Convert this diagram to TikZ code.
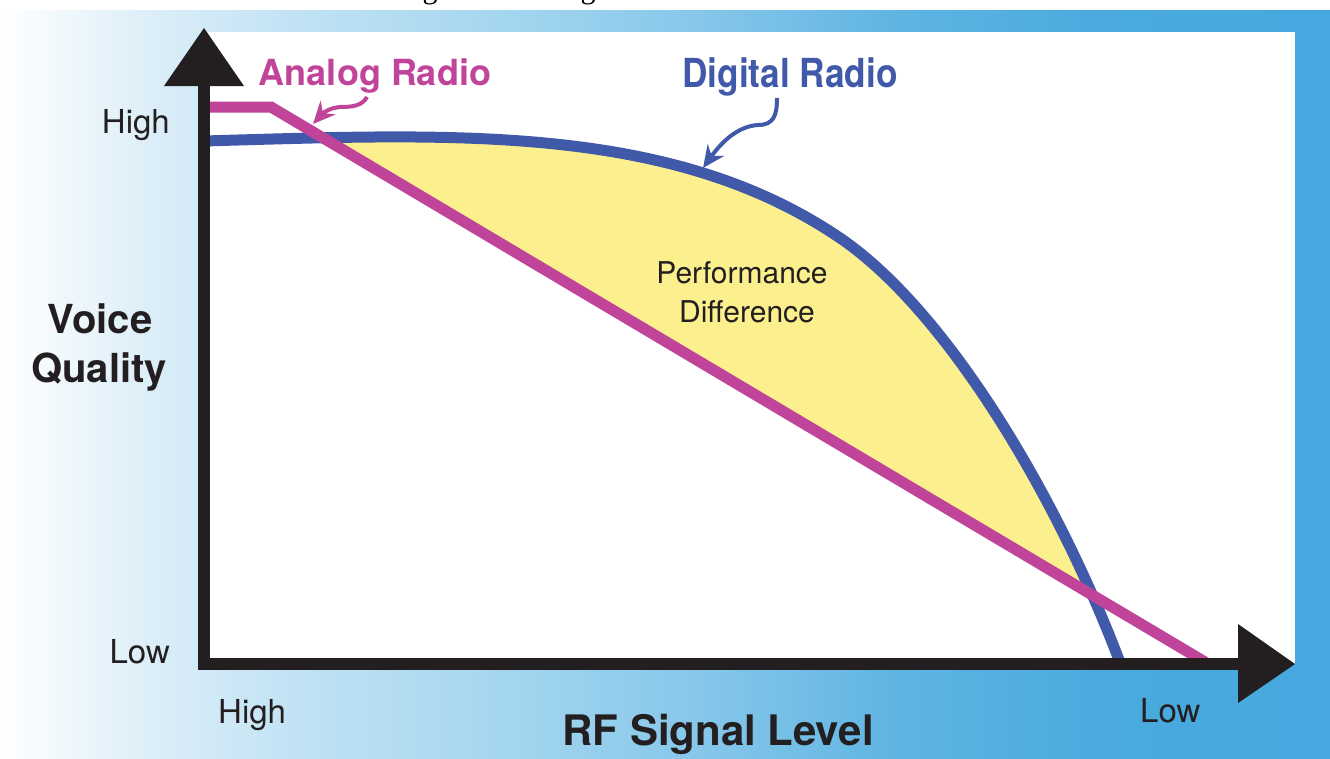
\documentclass[tikz,border=0pt]{standalone}
\usepackage{fontspec}
\setmainfont{TeX Gyre Heros}
\newfontfamily\captionserif{Liberation Serif}
\usepackage{graphicx}
\usetikzlibrary{arrows.meta}

% palette
\definecolor{analog}{HTML}{C0449A}
\definecolor{digital}{HTML}{4059A9}
\definecolor{gapfill}{HTML}{FBF08D}
\definecolor{axisink}{HTML}{231F20}
\definecolor{bgA}{HTML}{DCEEF8}
\definecolor{bgB}{HTML}{C0E2F4}
\definecolor{bgC}{HTML}{A5D6EF}
\definecolor{bgD}{HTML}{86C7EA}
\definecolor{bgE}{HTML}{5FB4E3}
\definecolor{bgF}{HTML}{4AAADE}
\definecolor{bgG}{HTML}{45A8DE}

% white-to-blue backdrop running left to right
\pgfdeclarehorizontalshading{backdrop}{100bp}{%
  color(0bp)=(white); color(25bp)=(white); color(30.6bp)=(bgA);
  color(36.3bp)=(bgB); color(43.8bp)=(bgC); color(51.3bp)=(bgD);
  color(58.8bp)=(bgE); color(66.4bp)=(bgF); color(75bp)=(bgG);
  color(100bp)=(bgG)}

\tikzset{
  txt/.style={inner sep=0pt, text=axisink},
  tick/.style={txt, font=\fontsize{33}{40}\selectfont},
  axtitle/.style={txt, font=\bfseries\fontsize{40}{48}\selectfont},
  xtitlefont/.style={txt, font=\bfseries\fontsize{42}{50}\selectfont},
  note/.style={txt, font=\fontsize{30}{36}\selectfont},
  analoglabel/.style={inner sep=0pt, text=analog, font=\bfseries\fontsize{36}{43}\selectfont},
  digitallabel/.style={inner sep=0pt, text=digital, font=\bfseries\fontsize{40}{48}\selectfont},
  curve/.style={line width=11pt, line cap=butt},
  pointer/.style={line width=4pt, -{Stealth[length=22pt,width=20pt]}},
}

\begin{document}
\begin{tikzpicture}[x=1pt, y=-1pt]
\useasboundingbox (0,0) rectangle (1330,758);

% descenders of the caption line above the figure
\node[inner sep=0pt, anchor=base, font=\captionserif\fontsize{30}{36}\selectfont] (capg1) at (430,-2) {g};
\node[inner sep=0pt, anchor=base, font=\captionserif\fontsize{30}{36}\selectfont] (capg2) at (588,-2) {g};

% backdrop and plot panel
\shade[shading=backdrop] (0,10) rectangle (1330,758);
\fill[white] (204,32) rectangle (1295,664);

% key points of the digital curve
\coordinate (dstart) at (204,141);
\coordinate (dknee) at (840,238);
\coordinate (dend) at (1122,668);

% region between the two curves
\begin{scope}
  \clip (204,0) -- (204,107) -- (271,107) -- (1205,662) -- (1320,662) -- (1320,0) -- cycle;
  \fill[gapfill] (dstart) .. controls (450,134) and (670,122.4) .. (dknee)
    .. controls (950,312.8) and (1062,506) .. (dend)
    -- (1122,700) -- (204,700) -- cycle;
\end{scope}

% digital radio curve
\draw[digital, curve] (dstart) .. controls (450,134) and (670,122.4) .. (dknee)
    .. controls (950,312.8) and (1062,506) .. (dend);

% analog radio line
\draw[analog, curve, line join=miter] (204,107) -- (271,107) -- (1205,662);

% axes
\draw[axisink, line width=12pt, line join=miter] (204,80) |- (1242,664);
\fill[axisink] (164,86) -- (204,28) -- (244,86) -- cycle;
\fill[axisink] (1238,624) -- (1295,664) -- (1238,703) -- cycle;

% axis labels
\node[tick, anchor=base east] (yhigh) at (170,133) {High};
\node[tick, anchor=base east] (ylow) at (170,663) {Low};
\node[tick, anchor=base west] (xhigh) at (218,723) {High};
\node[tick, anchor=base west] (xlow) at (1140,722) {Low};
\node[xtitlefont, anchor=base] (xtitle) at (718,745) {RF Signal Level};
\node[axtitle, anchor=base] (ytitleA) at (100,333) {Voice};
\node[axtitle, anchor=base] (ytitleB) at (99,382) {Quality};

% gap annotation
\node[note, anchor=base] (perfA) at (742,283) {Performance};
\node[note, anchor=base] (perfB) at (747,322) {Difference};

% curve labels with pointers
\node[analoglabel, anchor=base] (analoglbl) at (375,85) {Analog Radio};
\node[digitallabel, anchor=base] (digitallbl) at (790,87) {\scalebox{0.88}[1]{Digital Radio}};
\coordinate (analogtip) at (313,124);
\coordinate (digitaltip) at (703,168);
\draw[analog, pointer] ([xshift=-8pt, yshift=-4pt]analoglbl.south)
  .. controls (362,106) and (352,107) .. (340,107)
  .. controls (330,108) and (324,112) .. (analogtip);
\draw[digital, pointer] ([xshift=-13pt, yshift=-2pt]digitallbl.south)
  .. controls (777,115) and (774,125) .. (758,125)
  .. controls (742,126) and (726,136) .. (digitaltip);
\end{tikzpicture}
\end{document}
